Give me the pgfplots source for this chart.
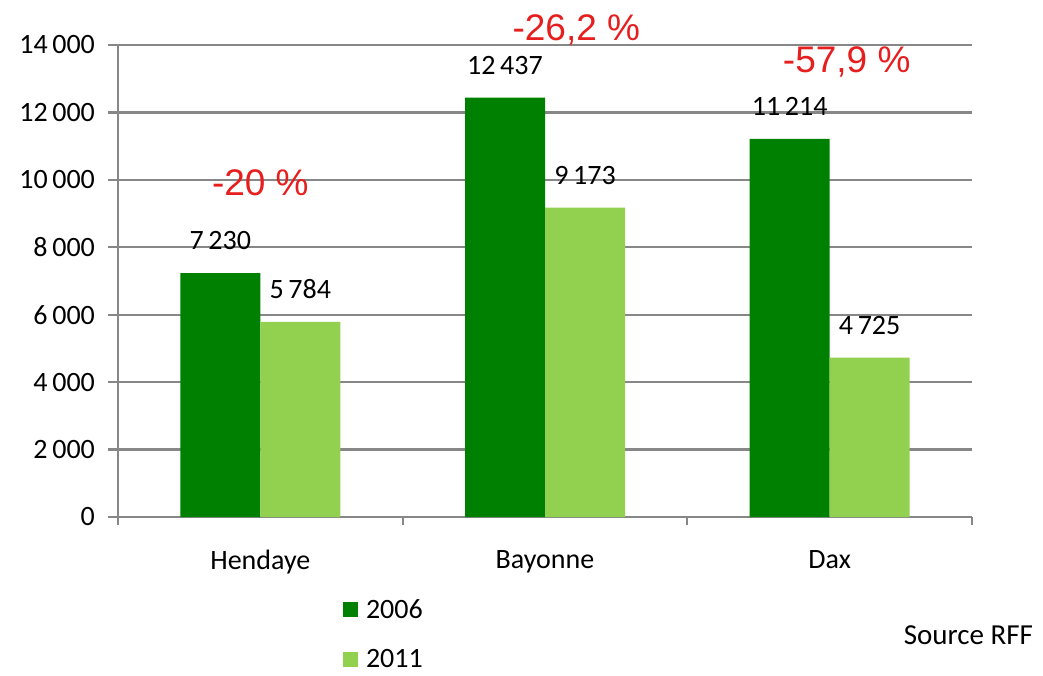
\documentclass[border=0pt]{standalone}
\usepackage{fontspec}
\setmainfont{Carlito}
\newfontfamily\redfont{Liberation Sans}
\usepackage{pgfplots}
\pgfplotsset{compat=1.18}
\definecolor{darkg}{RGB}{0,128,0}
\definecolor{lightg}{RGB}{146,208,80}
\definecolor{gridg}{RGB}{135,135,135}
\definecolor{redl}{RGB}{230,30,30}
\begin{document}
\begin{tikzpicture}
\path[use as bounding box] (0,0) rectangle (521.5pt,337.5pt);
\begin{axis}[
  at={(59pt,79pt)}, anchor=south west,
  scale only axis, width=427pt, height=236pt,
  ybar=0pt, bar width=40pt,
  xmin=-0.5, xmax=2.5, ymin=0, ymax=14000,
  axis lines=left, axis line style={gridg, line width=1.1pt, -},
  scaled y ticks=false,
  ytick={0,2000,4000,6000,8000,10000,12000,14000},
  yticklabels={0,2\,000,4\,000,6\,000,8\,000,10\,000,12\,000,14\,000},
  ymajorgrids, grid style={gridg, line width=1.1pt},
  xtick={0,1,2}, xticklabels={Hendaye,Bayonne,Dax},
  minor xtick={-0.5,0.5,1.5,2.5},
  tick align=outside, major tick length=5pt, minor tick length=4pt,
  x tick style={draw=none},
  minor x tick style={draw=gridg, line width=1.1pt},
  y tick style={draw=gridg, line width=1.1pt},
  tick label style={font=\fontsize{14}{16}\selectfont, text=black},
  yticklabel style={xshift=-3pt},
  xticklabel style={yshift=-8pt},
  clip=false,
  point meta=explicit symbolic,
  nodes near coords,
  every node near coord/.append style={font=\fontsize{14}{16}\selectfont, black, yshift=8pt},
  legend style={at={(rel axis cs:0.263,-0.165)}, anchor=north west, draw=none, fill=none,
    font=\fontsize{14}{16}\selectfont, row sep=10pt, inner sep=0pt,
    cells={anchor=west}, nodes={inner xsep=4pt}},
  legend image code/.code={\fill[#1] (0pt,-3.5pt) rectangle (7.5pt,4pt);},
]
\addplot[fill=darkg, draw=none] coordinates {(0,7230) [7\,230] (1,12437) [12\,437] (2,11214) [11\,214]};
\addplot[fill=lightg, draw=none] coordinates {(0,5784) [5\,784] (1,9173) [9\,173] (2,4725) [4\,725]};
\legend{2006,2011}
\node[font=\redfont\fontsize{18.5}{20}\selectfont, text=redl] at (axis cs:0,9900) {-20 \%};
\node[font=\redfont\fontsize{18.5}{20}\selectfont, text=redl] at (axis cs:1.11,14445) {-26,2 \%};
\node[font=\redfont\fontsize{18.5}{20}\selectfont, text=redl] at (axis cs:2.06,13496) {-57,9 \%};
\end{axis}
\node[font=\fontsize{14.5}{16}\selectfont, anchor=east] at (520pt,20pt) {Source RFF};
\end{tikzpicture}
\end{document}
